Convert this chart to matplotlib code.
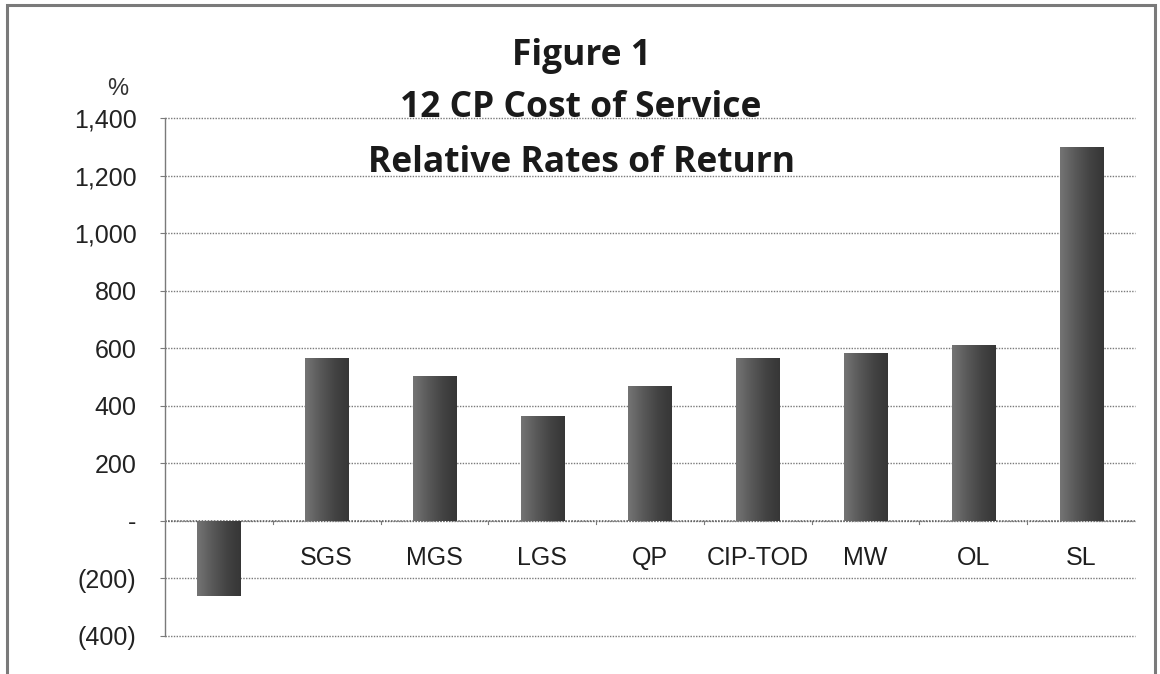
import matplotlib
matplotlib.use("Agg")
import matplotlib.pyplot as plt
import numpy as np
from matplotlib.patches import Rectangle

# Relative rates of return by rate class (%)
categories = ["RS", "SGS", "MGS", "LGS", "QP", "CIP-TOD", "MW", "OL", "SL"]
returns = [-260, 567, 505, 366, 469, 566, 583, 611, 1300]
yticks = [-400, -200, 0, 200, 400, 600, 800, 1000, 1200, 1400]
ytick_labels = ["(400)", "(200)", "-", "200", "400", "600", "800", "1,000", "1,200", "1,400"]
title_lines = ["Figure 1", "12 CP Cost of Service", "Relative Rates of Return"]

W, H = 1160, 674
fig = plt.figure(figsize=(W / 100, H / 100), dpi=100)
fig.patch.set_facecolor("white")

# outer chart frame
fig.patches.append(Rectangle((7 / W, -0.02), (1155 - 7) / W, 1 - 5 / H + 0.02,
                             transform=fig.transFigure, fill=False,
                             edgecolor="#7a7a7a", linewidth=2.2))

ax = fig.add_axes([165 / W, 1 - 636 / H, (1135 - 165) / W, (636 - 118) / H])

x = np.arange(len(categories))
bars = ax.bar(x, returns, width=0.4, color="#4a4a4a", edgecolor="none", zorder=3)

# horizontal shading inside each bar: lighter left edge, darker right edge
grad = np.linspace(0, 1, 64).reshape(1, -1)
cmap = matplotlib.colors.LinearSegmentedColormap.from_list(
    "barshade", ["#747474", "#5a5a5a", "#444444", "#363636"])
for b in bars:
    x0, y0 = b.get_x(), b.get_y()
    w, h = b.get_width(), b.get_height()
    im = ax.imshow(grad, extent=(x0, x0 + w, y0, y0 + h), cmap=cmap,
                   aspect="auto", zorder=4, interpolation="bicubic")
    im.set_clip_path(b)
ax.set_xlim(-0.5, len(categories) - 0.5)
ax.set_ylim(-400, 1400)

# dotted gridlines
for t in yticks:
    ax.axhline(t, color="#7a7a7a", linewidth=1.0, linestyle=(0, (1, 1)),
               zorder=1, clip_on=False)
ax.axhline(0, color="#5a5a5a", linewidth=1.1, linestyle=(0, (1, 1)), zorder=2)

for s in ["top", "right", "bottom"]:
    ax.spines[s].set_visible(False)
ax.spines["left"].set_color("#7a7a7a")
ax.spines["left"].set_linestyle((0, (1, 1)))
ax.spines["left"].set_linewidth(1.0)

ax.set_yticks(yticks)
ax.set_yticklabels(ytick_labels, fontfamily="Liberation Sans", fontsize=18,
                   color="#222222")
ax.tick_params(axis="y", length=3.5, color="#7a7a7a", pad=17)
ax.set_xticks([])

# category boundary ticks along the zero line
for b in np.arange(0.5, len(categories) - 0.5, 1.0):
    ax.plot([b, b], [0, -12], color="#7a7a7a", linewidth=0.8, zorder=2)

for xi, name in zip(x, categories):
    ax.text(xi, -128, name, ha="center", va="center", fontfamily="Liberation Sans",
            fontsize=18, color="#1e1e1e", zorder=2)

# unit label above the value axis
fig.text(118 / W, 1 - 89 / H, "%", ha="center", va="center",
         fontfamily="Liberation Sans", fontsize=17, color="#333333")

# three-line title
title_y = [56, 108, 163]
for line, yy in zip(title_lines, title_y):
    fig.text(581 / W, 1 - yy / H, line, ha="center", va="center",
             fontfamily="Open Sans", fontweight="bold", fontsize=25.5,
             color="#1a1a1a", zorder=10)

fig.savefig("out.png", dpi=100, facecolor="white")
